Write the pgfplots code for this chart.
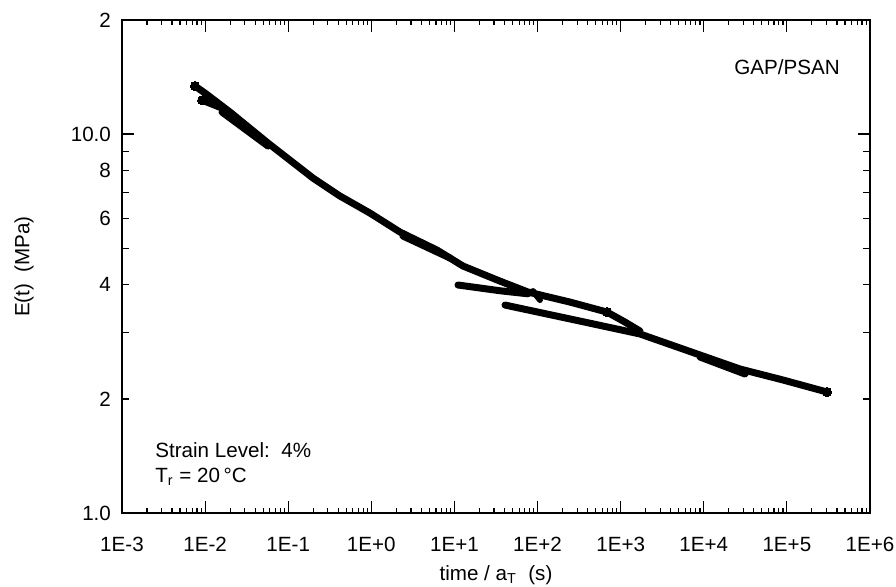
\documentclass[border=0pt]{standalone}
\usepackage{fontspec}
\setmainfont{Liberation Sans}
\usepackage{pgfplots}
\pgfplotsset{compat=1.18}
\begin{document}
\begin{tikzpicture}
\path[use as bounding box] (-61pt,-36.5pt) rectangle (387pt,256.5pt);
\begin{axis}[
  at={(0,0)}, anchor=south west,
  scale only axis, width=374pt, height=246.5pt,
  xmode=log, ymode=log,
  xmin=1e-3, xmax=1e6, ymin=1, ymax=20,
  font=\fontsize{10.3}{12}\selectfont,
  /pgf/number format/assume math mode=true,
  tick align=inside,
  axis line style={line width=0.8pt},
  every tick/.style={black, line width=0.6pt},
  major tick length=6pt, minor tick length=2.5pt,
  xtick={1e-3,1e-2,1e-1,1,1e1,1e2,1e3,1e4,1e5,1e6},
  xticklabels={1E-3,1E-2,1E-1,1E+0,1E+1,1E+2,1E+3,1E+4,1E+5,1E+6},
  minor xtick={2e-3,3e-3,4e-3,5e-3,6e-3,7e-3,8e-3,9e-3,
               2e-2,3e-2,4e-2,5e-2,6e-2,7e-2,8e-2,9e-2,
               0.2,0.3,0.4,0.5,0.6,0.7,0.8,0.9,
               2,3,4,5,6,7,8,9,
               20,30,40,50,60,70,80,90,
               200,300,400,500,600,700,800,900,
               2000,3000,4000,5000,6000,7000,8000,9000,
               2e4,3e4,4e4,5e4,6e4,7e4,8e4,9e4,
               2e5,3e5,4e5,5e5,6e5,7e5,8e5,9e5},
  ytick={10}, yticklabels={10.0},
  minor ytick={},
  extra y ticks={1,2,3,4,5,6,7,8,9,20},
  extra y tick labels={1.0,2,,4,,6,,8,,2},
  extra y tick style={major tick length=3.5pt},
  xticklabel style={font=\fontsize{10.3}{12}\selectfont, yshift=-8.5pt},
  yticklabel style={font=\fontsize{10.3}{12}\selectfont, xshift=-2pt},
  xlabel={time / a\textsubscript{T}\ \ (s)},
  ylabel={E(t)\ \ (MPa)},
  every axis x label/.style={at={(axis description cs:0.5,-0.1258)}, anchor=center},
  every axis y label/.style={at={(axis description cs:-0.131,0.5)}, rotate=90, anchor=center},
  clip=false,
]
% main upper segment
\addplot[black, line width=3.5pt, line cap=round, line join=round,
  mark=*, mark size=2.3pt, mark indices={1,14}, mark options={line width=0pt}] coordinates {
  (0.00755,13.39) (0.00997,12.83) (0.01993,11.43) (0.0571,9.468) (0.1987,7.654)
  (0.4198,6.862) (0.9638,6.187) (2.213,5.513) (6.168,4.942) (12.67,4.485)
  (35.33,4.092) (76.74,3.830) (245.7,3.603) (684.7,3.391) (1127,3.191) (1708,3.021)
};
% branch 1
\addplot[black, line width=3.5pt, line cap=round, line join=round] coordinates {
  (11.04,3.997) (35.33,3.860) (76.74,3.789)
};
% branch 2 and tail
\addplot[black, line width=3.5pt, line cap=round, line join=round,
  mark=*, mark size=2.3pt, mark indices={7}, mark options={line width=0pt}] coordinates {
  (40.58,3.538) (282.1,3.231) (1708,2.968) (9005,2.612) (27290,2.399) (89800,2.244) (303800,2.086)
};
% small overlapping segments
\addplot[black, line width=3.5pt, line cap=round,
  mark=*, mark size=2.2pt, mark indices={1}, mark options={line width=0pt}] coordinates {
  (0.00918,12.29) (0.01596,11.71)
};
\addplot[black, line width=3.5pt, line cap=round] coordinates {
  (0.01596,11.43) (0.0571,9.296)
};
\addplot[black, line width=3.5pt, line cap=round] coordinates {
  (2.404,5.381) (8.841,4.709)
};
\addplot[black, line width=3pt, line cap=round] coordinates {
  (88.15,3.853) (107.0,3.648)
};
\addplot[black, line width=3.5pt, line cap=round] coordinates {
  (9005,2.580) (31330,2.327)
};
\node[anchor=east, inner sep=0pt] at (axis description cs:0.960,0.9047) {GAP/PSAN};
\node[anchor=west, align=left, inner sep=0pt, font=\fontsize{10.3}{12.5}\selectfont] at (axis description cs:0.0441,0.0984)
  {Strain Level:\ \ 4\%\\T\textsubscript{r} = 20\,°C};
\end{axis}
\end{tikzpicture}
\end{document}
